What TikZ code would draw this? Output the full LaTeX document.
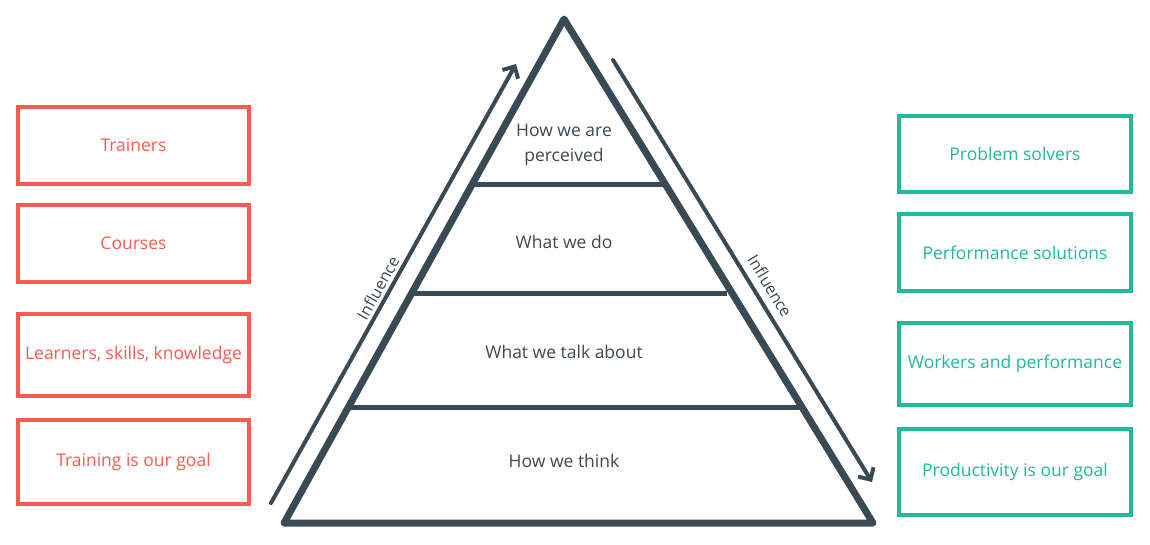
\documentclass[tikz,border=0pt]{standalone}
\usepackage{fontspec}
\setmainfont{Open Sans}
\usetikzlibrary{arrows.meta}
\definecolor{redc}{HTML}{FA5A50}
\definecolor{tealc}{HTML}{1DBA9B}
\definecolor{darkc}{HTML}{3A4A55}
\tikzset{
  redbox/.style={draw=redc, line width=4pt, minimum width=231pt, minimum height=77pt, text=redc, font=\fontsize{17.5}{24}\selectfont, inner sep=0pt},
  tealbox/.style={draw=tealc, line width=4pt, minimum width=232pt, minimum height=77pt, text=tealc, font=\fontsize{17.5}{24}\selectfont, inner sep=0pt},
  lvl/.style={text=darkc, font=\fontsize{17.5}{25}\selectfont, align=center},
  infl/.style={draw=darkc, line width=4pt, line cap=round, -{Straight Barb[length=9pt,width=18pt,line width=4pt]}},
  infltext/.style={text=darkc, font=\fontsize{16}{18}\selectfont},
}
\begin{document}
\begin{tikzpicture}[x=1pt,y=-1pt]
\useasboundingbox (0,0) rectangle (1150,544);
% pyramid
\coordinate (apex) at (564,19);
\coordinate (bl) at (284,523);
\coordinate (br) at (873,523);
\draw[darkc, line width=7pt, line join=round, line cap=round] (apex) -- (bl) -- (br) -- cycle;
\coordinate (l1a) at (473,184); \coordinate (l1b) at (663,184);
\coordinate (l2a) at (412,293); \coordinate (l2b) at (727,293);
\coordinate (l3a) at (350,407); \coordinate (l3b) at (802,407);
\draw[darkc, line width=5pt] (l1a) -- (l1b);
\draw[darkc, line width=5pt] (l2a) -- (l2b);
\draw[darkc, line width=5pt] (l3a) -- (l3b);
\node[lvl] (t1) at (564,145) {How we are\\perceived};
\node[lvl] (t2) at (564,242) {What we do};
\node[lvl] (t3) at (564,352) {What we talk about};
\node[lvl] (t4) at (564,461) {How we think};
% arrows
\coordinate (la) at (271,503);
\coordinate (lb) at (516,64);
\draw[infl] (la) -- (lb);
\coordinate (ra) at (613,60);
\coordinate (rb) at (872,482);
\draw[infl] (ra) -- (rb);
\node[infltext, rotate=60.8] (il) at (378,288) {Influence};
\node[infltext, rotate=-58.5] (ir) at (770,286) {Influence};
% left boxes
\node[redbox] (a1) at (133.5,145.5) {Trainers};
\node[redbox] (a2) at (133.5,243.5) {Courses};
\node[redbox, minimum height=82pt] (a3) at (133.5,355) {Learners, skills, knowledge};
\node[redbox, minimum height=84pt] (a4) at (133.5,462) {Training is our goal};
% right boxes
\node[tealbox, minimum height=76pt] (b1) at (1015,154) {Problem solvers};
\node[tealbox] (b2) at (1015,252.5) {Performance solutions};
\node[tealbox, minimum height=82pt] (b3) at (1015,364) {Workers and performance};
\node[tealbox, minimum height=86pt] (b4) at (1015,472) {Productivity is our goal};
\end{tikzpicture}
\end{document}
